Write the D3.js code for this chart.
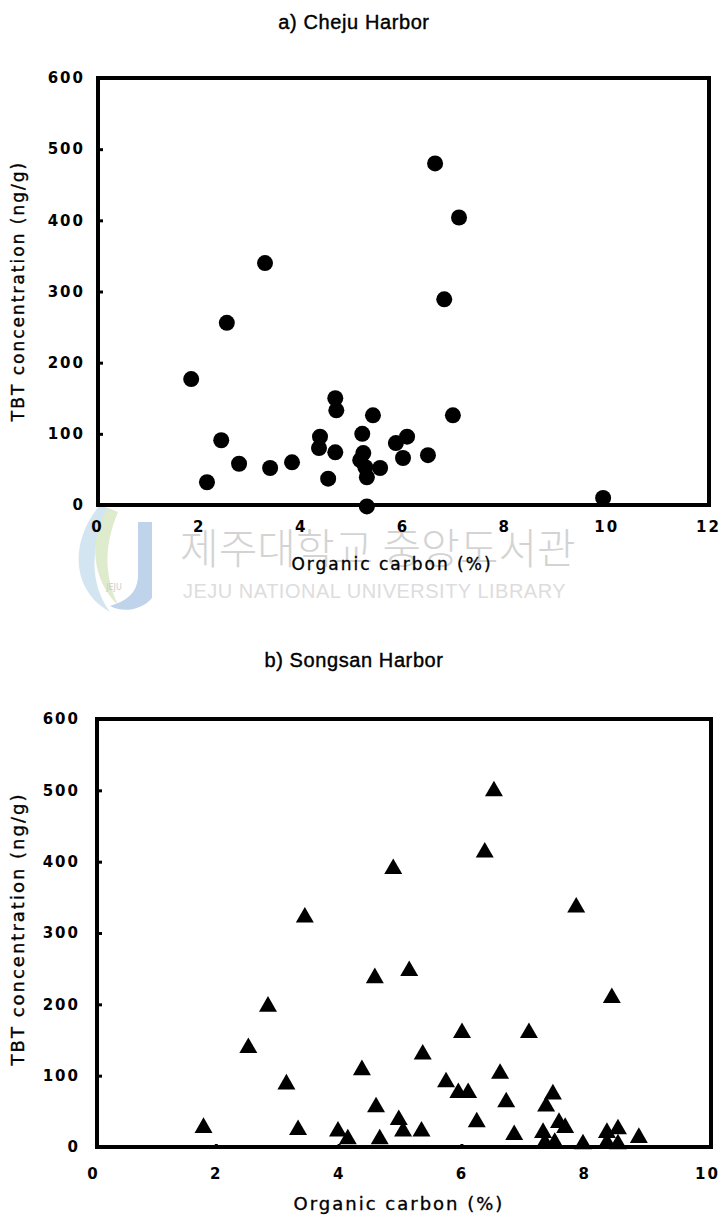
<!DOCTYPE html>
<html>
<head>
<meta charset="utf-8">
<script src="https://cdn.jsdelivr.net/npm/d3@7"></script>
<style>
  body { margin: 0; background: #fff; }
  svg { display: block; }
  .tick text { font-family: "DejaVu Sans", sans-serif; font-weight: bold; font-size: 15px; letter-spacing: 2px; fill: #000; }
  .tick line { stroke: #000; stroke-width: 3; }
  .ttl { font-family: "Liberation Sans", Arial, sans-serif; font-size: 20px; letter-spacing: 0.6px; stroke: #000; stroke-width: 0.4px; }
  .lab { font-family: "DejaVu Sans", sans-serif; letter-spacing: 2px; stroke: #000; stroke-width: 0.35px; }
</style>
</head>
<body>
<script>
// a) Cheju Harbor - organic carbon (%) vs TBT (ng/g)
var chejuOC  = [1.85, 2.55, 3.30, 2.44, 2.16, 2.79, 3.40, 3.83, 4.68, 4.70, 5.42, 4.38, 4.36, 4.68, 4.54,
                5.21, 5.23, 5.17, 5.27, 5.30, 5.56, 6.09, 5.87, 6.01, 6.50, 6.99, 6.64, 7.11, 6.82, 9.94, 5.30];
var chejuTBT = [177, 256, 340, 91, 32, 58, 52, 60, 150, 133, 126, 96, 80, 74, 37,
                100, 73, 63, 53, 39, 52, 96, 87, 66, 70, 126, 480, 404, 289, 10, -2];

// b) Songsan Harbor
var songsanOC  = [6.53, 6.38, 4.89, 7.87, 3.45, 2.85, 2.53, 3.15, 1.80, 3.34, 3.99, 4.15, 4.38,
                  4.59, 5.15, 8.45, 6.01, 7.10, 5.37, 6.63, 5.75, 5.95, 6.11, 6.73, 7.49, 7.38,
                  4.61, 4.98, 5.05, 5.35, 6.25, 6.86, 7.59, 7.69, 7.33, 7.36, 7.52, 4.67, 7.98,
                  8.37, 8.55, 8.37, 8.55, 8.89];
var songsanTBT = [499, 413, 390, 336, 322, 197, 139, 88, 27, 24, 22, 11, 108,
                  237, 247, 209, 160, 160, 130, 103, 91, 76, 76, 63, 74, 57,
                  56, 38, 22, 22, 35, 17, 34, 27, 20, 6, 6, 11, 4,
                  20, 25, 6, 4, 13];

var yTicks = [0, 100, 200, 300, 400, 500, 600];
var xTicksA = [0, 2, 4, 6, 8, 10, 12];
var xTicksB = [0, 2, 4, 6, 8, 10];

var titleA = "a) Cheju Harbor";
var titleB = "b) Songsan Harbor";
var yLabel = "TBT concentration (ng/g)";
var xLabel = "Organic carbon (%)";

var svg = d3.select("body").append("svg")
    .attr("width", 722)
    .attr("height", 1218);

// watermark of the scanned page
var wm = svg.append("g").attr("opacity", 0.9);
wm.append("path")
    .attr("d", "M100,505 C70,540 70,590 110,612 C90,585 88,545 112,510 Z")
    .attr("fill", "#cfe3f0");
wm.append("path")
    .attr("d", "M108,508 C88,540 92,580 118,605 C104,575 104,545 118,512 Z")
    .attr("fill", "#dbe9c8");
wm.append("path")
    .attr("d", "M138,522 L152,522 L152,598 C140,612 120,612 110,606 C130,600 138,590 138,575 Z")
    .attr("fill", "#b9cfe8");
wm.append("text")
    .attr("x", 114).attr("y", 590)
    .attr("text-anchor", "middle")
    .attr("font-family", "DejaVu Sans")
    .attr("font-size", 8).attr("fill", "#c8c8c8")
    .text("JEJU");
wm.append("text")
    .attr("x", 180).attr("y", 564)
    .attr("font-family", "Noto Sans CJK KR")
    .attr("font-weight", 300)
    .attr("font-size", 42)
    .attr("fill", "#cfcfcf")
    .text("제주대학교 중앙도서관");
wm.append("text")
    .attr("x", 183).attr("y", 598)
    .attr("font-family", "Liberation Sans")
    .attr("font-size", 20)
    .attr("letter-spacing", "0.5px")
    .attr("fill", "#dadada")
    .text("JEJU NATIONAL UNIVERSITY LIBRARY");

function drawPanel(cfg) {
    var x = d3.scaleLinear().domain(cfg.xDomain).range([cfg.left, cfg.right]);
    var y = d3.scaleLinear().domain([0, 600]).range([cfg.bottom, cfg.top]);

    var g = svg.append("g");

    g.append("text")
        .attr("class", "ttl")
        .attr("x", cfg.titleX).attr("y", cfg.titleY)
        .attr("text-anchor", "middle")
        .text(cfg.title);

    var yAxis = g.append("g")
        .attr("transform", `translate(${cfg.frameLeft},0)`)
        .call(d3.axisLeft(y).tickValues(yTicks).tickSize(-5).tickPadding(cfg.yPad));
    yAxis.select(".domain").remove();
    yAxis.selectAll(".tick").filter(d => d === 0 || d === 600).select("line").remove();

    var xAxis = g.append("g")
        .attr("transform", `translate(0,${cfg.bottom})`)
        .call(d3.axisBottom(x).tickValues(cfg.xTicks).tickSize(-cfg.xTickLen).tickPadding(cfg.xPad));
    xAxis.select(".domain").remove();
    xAxis.selectAll(".tick").filter(d => d === cfg.xDomain[0] || d === cfg.xDomain[1]).select("line").remove();

    g.append("rect")
        .attr("x", cfg.frameLeft).attr("y", cfg.top)
        .attr("width", cfg.frameRight - cfg.frameLeft)
        .attr("height", cfg.bottom - cfg.top)
        .attr("fill", "none")
        .attr("stroke", "#000")
        .attr("stroke-width", 4);

    g.append("text")
        .attr("class", "lab")
        .attr("font-size", cfg.labSize)
        .attr("transform", `translate(${cfg.yLabX},${cfg.yLabY}) rotate(-90)`)
        .attr("text-anchor", "middle")
        .attr("dy", "0.35em")
        .text(yLabel);

    g.append("text")
        .attr("class", "lab")
        .attr("font-size", cfg.labSize)
        .attr("x", cfg.xLabX).attr("y", cfg.xLabY)
        .attr("text-anchor", "middle")
        .attr("dy", "0.35em")
        .text(xLabel);

    var pts = d3.zip(cfg.xs, cfg.ys);
    if (cfg.shape === "circle") {
        g.selectAll("circle.pt")
            .data(pts)
            .join("circle")
            .attr("class", "pt")
            .attr("cx", d => x(d[0]))
            .attr("cy", d => y(d[1]))
            .attr("r", 8)
            .attr("fill", "#000");
    } else {
        g.selectAll("path.pt")
            .data(pts)
            .join("path")
            .attr("class", "pt")
            .attr("d", d3.symbol(d3.symbolTriangle, 140))
            .attr("transform", d => `translate(${x(d[0])},${y(d[1])})`)
            .attr("fill", "#000");
    }
}

drawPanel({
    title: titleA, titleX: 354, titleY: 29,
    xDomain: [0, 12], xTicks: xTicksA, xTickLen: 0,
    left: 97, right: 708, frameLeft: 98, frameRight: 709,
    top: 78, bottom: 505,
    yPad: 13, xPad: 16,
    labSize: 17,
    yLabX: 18, yLabY: 291,
    xLabX: 392, xLabY: 564,
    xs: chejuOC, ys: chejuTBT, shape: "circle"
});

drawPanel({
    title: titleB, titleX: 354, titleY: 667,
    xDomain: [0, 10], xTicks: xTicksB, xTickLen: 3,
    left: 93, right: 707, frameLeft: 97, frameRight: 711,
    top: 719, bottom: 1147,
    yPad: 17, xPad: 21,
    labSize: 18,
    yLabX: 18, yLabY: 929,
    xLabX: 399, xLabY: 1204,
    xs: songsanOC, ys: songsanTBT, shape: "triangle"
});
</script>
</body>
</html>
